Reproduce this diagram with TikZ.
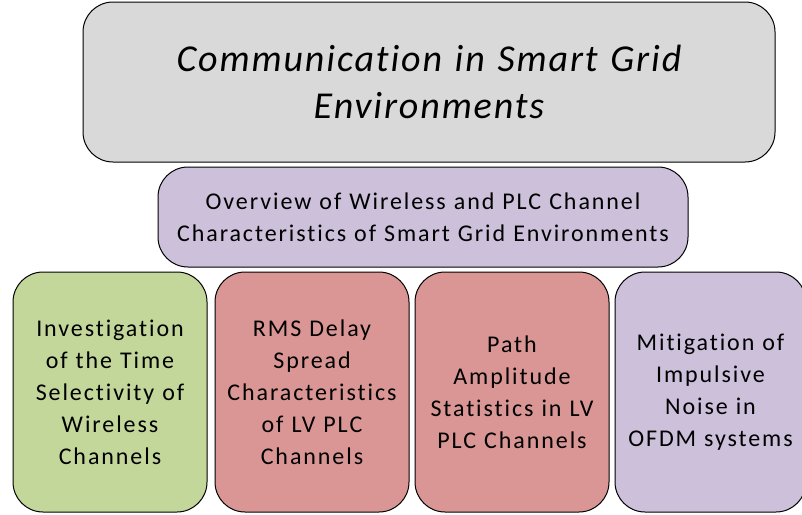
\documentclass[tikz,border=0pt]{standalone}
\usepackage{fontspec}
\setmainfont{Carlito}[LetterSpace=8,Ligatures={NoCommon}]
\newfontfamily\titlefont{Carlito}[LetterSpace=5,Ligatures={NoCommon}]
\definecolor{boxgray}{HTML}{D9D9D9}
\definecolor{boxpurple}{HTML}{CCC0DA}
\definecolor{boxgreen}{HTML}{C4D79B}
\definecolor{boxred}{HTML}{DA9694}
\tikzset{
  rbox/.style={draw=black, line width=1pt, rounded corners=30pt, rectangle, align=center, inner sep=0pt},
  bottombox/.style={rbox, minimum width=194pt, minimum height=240pt, text width=190pt, font=\fontsize{24}{32}\selectfont},
}
\begin{document}
\begin{tikzpicture}[x=1pt,y=-1pt]
\useasboundingbox (0,0) rectangle (802,514);
\clip (0,0) rectangle (802,514);
\node[rbox, fill=boxgray, minimum width=692pt, minimum height=160pt, text width=680pt, font=\titlefont\fontsize{38}{47}\selectfont\itshape] (title) at (429,82) {Communication in Smart Grid\\Environments};
\node[rbox, fill=boxpurple, minimum width=530pt, minimum height=100pt, text width=526pt, font=\fontsize{24}{32}\selectfont] (overview) at (423,217) {Overview of Wireless and PLC Channel\\Characteristics of Smart Grid Environments};
\node[bottombox, fill=boxgreen] (time) at (110,392) {Investigation\\of the Time\\Selectivity of\\Wireless\\Channels};
\node[bottombox, fill=boxred] (rms) at (312,392) {RMS Delay\\Spread\\Characteristics\\of LV PLC\\Channels};
\node[bottombox, fill=boxred] (path) at (512,392) {Path\\Amplitude\\Statistics in LV\\PLC Channels};
\node[bottombox, fill=boxpurple, minimum width=191pt] (noise) at (710.5,392) {Mitigation of\\Impulsive\\Noise in\\OFDM systems};
\end{tikzpicture}
\end{document}
